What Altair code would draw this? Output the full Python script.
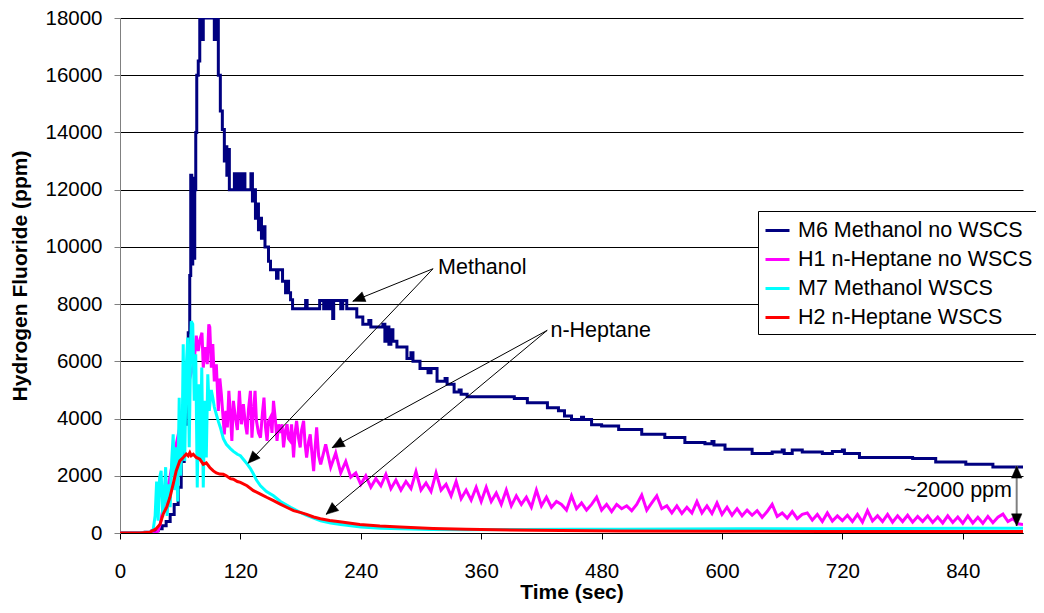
import math
import altair as alt
import pandas as pd

FONT = "Liberation Sans"

series_names = ["M6 Methanol no WSCS", "H1 n-Heptane no WSCS", "M7 Methanol WSCS", "H2 n-Heptane WSCS"]
series_colors = ["#000080", "#FF00FF", "#00FFFF", "#FF0000"]

x_ticks = [0, 120, 240, 360, 480, 600, 720, 840]
y_ticks = [0, 2000, 4000, 6000, 8000, 10000, 12000, 14000, 16000, 18000]

# M6 Methanol no WSCS (step-like readings)
m6_points = [
    (0, 0), (25, 30), (32, 80), (38, 150), (42, 250), (46, 400), (50, 650), (54, 1000),
    (58, 1600), (61, 2500), (64, 3800), (66, 5500), (68, 7000), (69.5, 9000), (70.5, 12500),
    (71.5, 9400), (72.5, 12400), (73.5, 9600), (74.5, 12000), (75.5, 14000), (76.5, 16000),
    (78, 16500), (79.5, 18000), (81, 17250), (83, 18000), (94, 17250), (96, 18000),
    (98, 16000), (100, 14750), (102, 14100), (104, 13000), (105.5, 13500), (106.5, 12500),
    (107.5, 13400), (109, 12000), (114, 12560), (115.5, 12000), (117, 12560), (118.5, 12000),
    (120.5, 12560), (122, 12000), (123, 12560), (124.5, 12000), (130.5, 12560), (132, 11600),
    (134, 12000), (135, 11000), (137, 11500), (138, 10600), (140, 11000), (141, 10300),
    (143, 10700), (144.5, 10000), (148, 9500), (150, 9200), (156, 8900), (157.5, 9200),
    (162, 8800), (165, 8400), (166, 8800), (168, 8400), (170, 8150), (172, 7840),
    (185, 8130), (186.5, 7840), (199, 8130), (203, 7840), (205, 8130), (208, 7840),
    (210, 8130), (212, 7500), (213, 8130), (220, 7840), (222, 8130), (226, 7840),
    (236, 7550), (242, 7300), (248, 7430), (250, 7200), (262, 7300), (264, 6700),
    (266, 7200), (268, 6600), (270, 7100), (272, 6700), (276, 6500), (286, 6100),
    (290, 6300), (292, 6000), (299, 5750), (307, 5600), (310, 5750), (316, 5300),
    (324, 5400), (326, 5200), (333, 4930), (338, 5000), (340, 4850), (346, 4760),
    (393, 4700), (406, 4550), (426, 4380), (437, 4270), (443, 4090), (450, 3970),
    (460, 4050), (462, 3970), (470, 3780), (480, 3740), (497, 3620), (520, 3450),
    (543, 3340), (563, 3160), (583, 3120), (590, 3200), (592, 3080), (603, 2930),
    (630, 2780), (650, 2830), (660, 2900), (662, 2780), (670, 2900), (680, 2830),
    (700, 2780), (710, 2850), (720, 2900), (722, 2780), (737, 2640), (770, 2640),
    (790, 2600), (813, 2480), (843, 2400), (870, 2310), (900, 2310),
]

# H1 n-Heptane no WSCS: dense readings of the early part
h1_early_points = [
    (0, 0), (36, 0), (38, 80), (40, 300), (42, 700), (44, 1000), (47, 1500), (50, 2000),
    (53, 2600), (56, 3100), (59, 3600), (62, 4200), (65, 4700), (68, 5200), (71, 5600),
    (74, 6000), (76, 6900), (78, 6360), (80, 6800), (81.7, 7000), (83, 5780), (85, 6500),
    (87, 5900), (88.5, 7290), (89.5, 7200), (91, 5780), (92.5, 6600), (94, 5300), (96, 5900),
    (98, 4270), (99.5, 5400), (101, 4850), (102.5, 4150), (104, 3450), (105.5, 4270),
    (107, 3690), (108.5, 4970), (110, 4150), (111.5, 3220), (113, 4620), (115, 4040),
    (117, 3600), (119, 4970), (121, 3800), (123, 4500), (125, 3800), (126.6, 3450),
    (128, 4300), (130, 4970), (131.5, 3330), (133, 4200), (134.6, 4970), (136, 3920),
    (138, 3500), (140, 3330), (142, 4200), (143.5, 4730), (145, 3700), (146.6, 3220),
    (148, 3900), (150, 4040), (151.5, 3500), (153, 4620), (155, 3900), (156.5, 3220),
    (158, 3800), (160, 3500), (161.5, 3800), (163, 2990), (165, 3600), (166.5, 3800),
    (168, 3300), (169.7, 3220), (171, 3800), (173, 2640), (174.5, 3500), (176, 3920),
    (178, 3300), (179.6, 2990), (181, 3600), (183, 3920), (184.5, 3100), (186, 2640),
    (188, 3200), (189.6, 3450), (191, 2900), (193, 2160), (194.5, 3000), (196, 3690),
    (198, 2700),
]
# H1 later part, one reading every 5 s from 200 s to 900 s
h1_late_t = list(range(200, 901, 5))
h1_late_v = [
    2400, 3100, 2300, 2800, 2100, 2500, 1950,
    2100, 1700, 2000, 1600, 1900, 1650,
    2050, 1550, 1850, 1500, 1800, 1550, 2150,
    1500, 1750, 1450, 2100, 1500, 1700, 1300,
    1800, 1200, 1500, 1150, 1600, 1100, 1600,
    1100, 1400, 1000, 1500, 950, 1300, 1000,
    1250, 900, 1500, 950, 1250, 900, 1100,
    1000, 800, 1300, 850, 1050, 800, 1000,
    1250, 800, 1000, 750, 1000, 850, 950,
    780, 1000, 1330, 800, 1050, 1300, 850,
    950, 700, 950, 680, 900, 700, 1100,
    700, 950, 680, 1050, 650, 900, 620,
    850, 600, 800, 620, 780, 550, 750,
    1000, 580, 700, 520, 750, 500, 650,
    700, 450, 650, 400, 700, 420, 600,
    430, 620, 400, 650, 380, 780, 420,
    600, 400, 650, 380, 600, 400, 620,
    380, 580, 400, 600, 370, 560, 350,
    600, 370, 560, 340, 600, 350, 550,
    340, 580, 360, 550, 660, 400, 500,
    320, 300,
]

# M7 Methanol WSCS
m7_points = [
    (0, 0), (20, 0), (30, 20), (33, 100), (35, 600), (36.5, 1800), (38, 430), (39.5, 1940),
    (41, 2170), (42.5, 550), (44, 1360), (45.5, 2300), (47, 600), (48.5, 1700), (50, 900),
    (51.5, 2500), (53, 3450), (54.5, 1500), (56, 3000), (57.5, 1100), (59, 4730), (60.5, 2000),
    (62, 3500), (63, 6600), (64.5, 2520), (66, 5780), (67.5, 6830), (69, 3000), (70, 5430),
    (71, 7400), (72.5, 7300), (74, 4620), (75.5, 6250), (77, 1590), (78.5, 5200), (80, 2520),
    (81.5, 5780), (83, 1590), (84.5, 4620), (86, 2640), (87.5, 5550), (89, 4270), (91, 5000),
    (92.5, 4730), (94, 4400), (96, 4150), (98, 3900), (100, 3690), (103, 3300), (106, 3100),
    (110, 2950), (113, 2850), (117, 2750), (120, 2700), (123.5, 2550), (127, 2400),
    (130, 2250), (133, 2060), (136, 1850), (140, 1650), (146, 1450), (153, 1300), (160, 1100),
    (170, 900), (178, 750), (186, 620), (193, 520), (200, 430), (210, 350), (220, 300),
    (240, 210), (260, 170), (280, 150), (310, 125), (345, 115), (400, 120), (450, 130),
    (500, 130), (560, 140), (620, 150), (700, 150), (780, 160), (850, 170), (900, 170),
]

# H2 n-Heptane WSCS
h2_points = [
    (0, 0), (20, 0), (30, 30), (36, 150), (40, 310), (43, 660), (46.5, 900), (49.7, 1240),
    (53, 1710), (56, 2170), (59.6, 2520), (63, 2640), (66, 2760), (68, 2700), (69.6, 2810),
    (71, 2700), (73, 2750), (76, 2640), (79.6, 2580), (83, 2400), (86, 2450), (89.5, 2290),
    (93, 2170), (96, 2100), (99.4, 2060), (103, 2050), (106, 2000), (110, 1900), (113, 1880),
    (117, 1800), (120, 1770), (126.6, 1650), (133, 1480), (140, 1360), (146.6, 1240),
    (153, 1130), (159.7, 1010), (166, 900), (173, 780), (179.6, 720), (186, 650), (193, 560),
    (199.7, 500), (209, 440), (219, 395), (239, 300), (259, 245), (279, 210), (312, 160),
    (345, 130), (411, 95), (497, 70), (600, 60), (700, 55), (800, 50), (900, 50),
]

# Annotations
label_text = ["Methanol", "n-Heptane"]
label_x = [317, 429]
label_y = [9260, 7060]
arrow_from_x = [312, 312, 425.8, 425.8]
arrow_from_y = [9237, 9237, 7084, 7084]
arrow_to_x = [232, 127.6, 211.4, 205.4]
arrow_to_y = [8100, 2436, 2981, 653]
gap_x = 893.7
gap_top = 2342
gap_bottom = 245
gap_text = "~2000 ppm"
gap_text_x = 889
gap_text_y = 1470

W, H = 903, 515
X_MAX, Y_MAX = 900, 18000


def frame(points, name):
    return pd.DataFrame({"t": [p[0] for p in points], "v": [p[1] for p in points], "series": name})


h1_points = h1_early_points + list(zip(h1_late_t, h1_late_v))
frames = [
    frame(m6_points, series_names[0]),
    frame(h1_points, series_names[1]),
    frame(m7_points, series_names[2]),
    frame(h2_points, series_names[3]),
]

x_enc = alt.X(
    "t:Q",
    scale=alt.Scale(domain=[0, X_MAX], nice=False, zero=False),
    axis=alt.Axis(
        values=x_ticks, title="Time (sec)", grid=False, domainColor="black", domainWidth=1,
        tickColor="black", tickSize=6, labelPadding=22, titlePadding=0, labelFlush=False,
        format="d",
        labelFont=FONT, labelFontSize=20.5, labelColor="black",
        titleFont=FONT, titleFontSize=21, titleFontWeight="bold", titleColor="black",
    ),
)
y_enc = alt.Y(
    "v:Q",
    scale=alt.Scale(domain=[0, Y_MAX], nice=False),
    axis=alt.Axis(
        values=y_ticks, title="Hydrogen Fluoride (ppm)", grid=True, gridColor="black",
        gridWidth=1, domainColor="#808080", domainWidth=1, tickColor="#808080", tickSize=6,
        labelPadding=12, titlePadding=14, labelFlush=False, format="d",
        labelFont=FONT, labelFontSize=20.5, labelColor="black",
        titleFont=FONT, titleFontSize=21, titleFontWeight="bold", titleColor="black",
    ),
)
color_enc = alt.Color(
    "series:N",
    scale=alt.Scale(domain=series_names, range=series_colors),
    legend=alt.Legend(
        orient="none", legendX=638, legendY=193, title=None, strokeColor="black",
        fillColor="white", padding=6, symbolType="stroke", symbolSize=576,
        symbolStrokeWidth=3, labelFont=FONT, labelFontSize=21.5, labelOffset=7,
        rowPadding=5, labelColor="black", labelLimit=400,
    ),
)

line_layers = []
for i, df in enumerate(frames):
    interp = "step-after" if i == 0 else "linear"
    line_layers.append(
        alt.Chart(df).mark_line(strokeWidth=3, interpolate=interp, clip=True).encode(
            x=x_enc, y=y_enc, color=color_enc
        )
    )

# annotation arrows
sx = W / X_MAX
sy = H / Y_MAX


def head_angle(x0, y0, x1, y1):
    dx = (x1 - x0) * sx
    dy = -(y1 - y0) * sy
    return math.degrees(math.atan2(dx, -dy)) % 360


arrows = pd.DataFrame({
    "x0": arrow_from_x, "y0": arrow_from_y, "x1": arrow_to_x, "y1": arrow_to_y,
})
arrows["ang"] = [head_angle(a, b, c, d) for a, b, c, d in zip(arrow_from_x, arrow_from_y, arrow_to_x, arrow_to_y)]

heads = pd.DataFrame({
    "x": list(arrow_to_x) + [gap_x, gap_x],
    "y": list(arrow_to_y) + [gap_top, gap_bottom],
    "ang": list(arrows["ang"]) + [0, 180],
})

arrow_lines = alt.Chart(arrows).mark_rule(color="black", strokeWidth=1).encode(
    x="x0:Q", y="y0:Q", x2="x1:Q", y2="y1:Q"
)
gap_df = pd.DataFrame({"x": [gap_x], "y0": [gap_top], "y1": [gap_bottom]})
gap_line = alt.Chart(gap_df).mark_rule(color="#808080", strokeWidth=2).encode(
    x="x:Q", y="y0:Q", y2="y1:Q"
)
head_marks = alt.Chart(heads).mark_point(
    shape="M0,0L0.6,1.4L-0.6,1.4Z", filled=True, fill="black", stroke="black",
    strokeWidth=0.5, size=300, opacity=1,
).encode(
    x="x:Q", y="y:Q", angle=alt.Angle("ang:Q", scale=None)
)

labels_df = pd.DataFrame({"x": label_x, "y": label_y, "text": label_text})
label_marks = alt.Chart(labels_df).mark_text(
    align="left", baseline="middle", font=FONT, fontSize=21.5, color="black"
).encode(x="x:Q", y="y:Q", text="text:N")

gap_label_df = pd.DataFrame({"x": [gap_text_x], "y": [gap_text_y], "text": [gap_text]})
gap_label = alt.Chart(gap_label_df).mark_text(
    align="right", baseline="middle", font=FONT, fontSize=21.5, color="black"
).encode(x="x:Q", y="y:Q", text="text:N")

chart = alt.layer(
    *line_layers, arrow_lines, gap_line, head_marks, label_marks, gap_label
).properties(
    width=W, height=H,
    autosize=alt.AutoSizeParams(type="none"),
    padding={"left": 112, "top": 10, "right": 13, "bottom": 71},
    background="white",
).configure_view(stroke="transparent")

chart.save("out.html", embed_options={"renderer": "svg", "actions": False})
